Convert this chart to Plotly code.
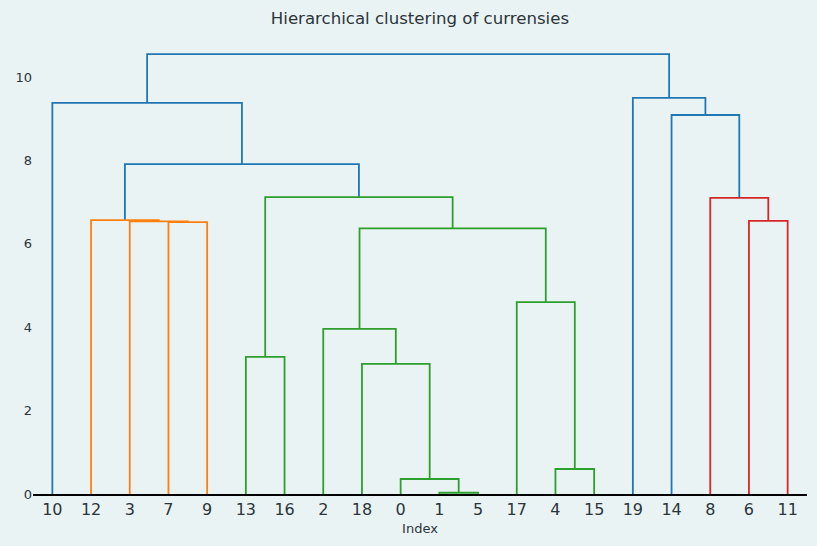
import plotly.graph_objects as go

# Leaf labels (currency indices)
n_leaves = 20

# Linkage: left child, right child, merge height (node ids: leaves 0..19, clusters 20+)
link_left = [1, 0, 4, 18, 13, 2, 17, 25, 7, 3, 6, 12, 8, 24, 31, 10, 14, 19, 35]
link_right = [5, 20, 15, 21, 16, 23, 22, 26, 9, 28, 11, 29, 30, 27, 33, 34, 32, 36, 37]
link_height = [0.03, 0.36, 0.60, 3.12, 3.29, 3.96, 4.60, 6.37, 6.52, 6.54, 6.55, 6.57,
               7.10, 7.12, 7.91, 9.38, 9.09, 9.50, 10.55]
# cluster group of each link (0 = above threshold, 1..3 = clusters)
link_group = [2, 2, 2, 2, 2, 2, 2, 2, 1, 1, 3, 1, 3, 2, 0, 0, 0, 0, 0]

group_colors = ["#1f77b4", "#ff7f0e", "#2ca02c", "#d62728"]

root = n_leaves + len(link_left) - 1


def leaves_of(node):
    if node < n_leaves:
        return [node]
    i = node - n_leaves
    return leaves_of(link_left[i]) + leaves_of(link_right[i])


leaf_order = leaves_of(root)
leaf_pos = {leaf: 5 + 10 * k for k, leaf in enumerate(leaf_order)}

node_x = {}
node_y = {}
for leaf in range(n_leaves):
    node_x[leaf] = leaf_pos[leaf]
    node_y[leaf] = 0.0


def compute(node):
    if node in node_x:
        return
    i = node - n_leaves
    compute(link_left[i])
    compute(link_right[i])
    node_x[node] = (node_x[link_left[i]] + node_x[link_right[i]]) / 2
    node_y[node] = link_height[i]


compute(root)

fig = go.Figure()
for g, col in enumerate(group_colors):
    xs, ys = [], []
    for i in range(len(link_left)):
        if link_group[i] != g:
            continue
        a, b = link_left[i], link_right[i]
        h = link_height[i]
        xs += [node_x[a], node_x[a], node_x[b], node_x[b], None]
        ys += [node_y[a], h, h, node_y[b], None]
    fig.add_trace(go.Scatter(x=xs, y=ys, mode="lines",
                             line=dict(color=col, width=1.8),
                             hoverinfo="skip", showlegend=False))

bg = "#eaf3f3"
text_col = "#2b353b"
fig.update_layout(
    width=817, height=546,
    paper_bgcolor=bg, plot_bgcolor=bg,
    margin=dict(l=33, r=10, t=32, b=52, autoexpand=False),
    title=dict(text="Hierarchical clustering of currensies", x=0.514, xanchor="center",
               y=0.967, yanchor="middle",
               font=dict(family="DejaVu Sans", size=16.6, color=text_col)),
    font=dict(family="DejaVu Sans", color=text_col),
)
fig.update_xaxes(
    range=[0, 10 * n_leaves],
    tickmode="array",
    tickvals=[leaf_pos[l] for l in leaf_order],
    ticktext=[str(l) for l in leaf_order],
    tickfont=dict(size=16, color=text_col),
    showgrid=False, zeroline=False,
    showline=True, linecolor="black", linewidth=1.5,
    ticks="", ticklen=0, automargin=False,
    title=dict(text="Index", font=dict(size=13, color=text_col), standoff=6),
)
fig.update_yaxes(
    range=[0, 11.08],
    tickvals=[0, 2, 4, 6, 8, 10],
    tickfont=dict(size=13, color=text_col),
    showgrid=False, zeroline=False, showline=False,
    ticks="", automargin=False,
)
fig.write_html(
    "out.html",
    config={"displayModeBar": False},
    post_script="document.body.style.margin='0';document.body.style.background='" + bg + "';",
)
